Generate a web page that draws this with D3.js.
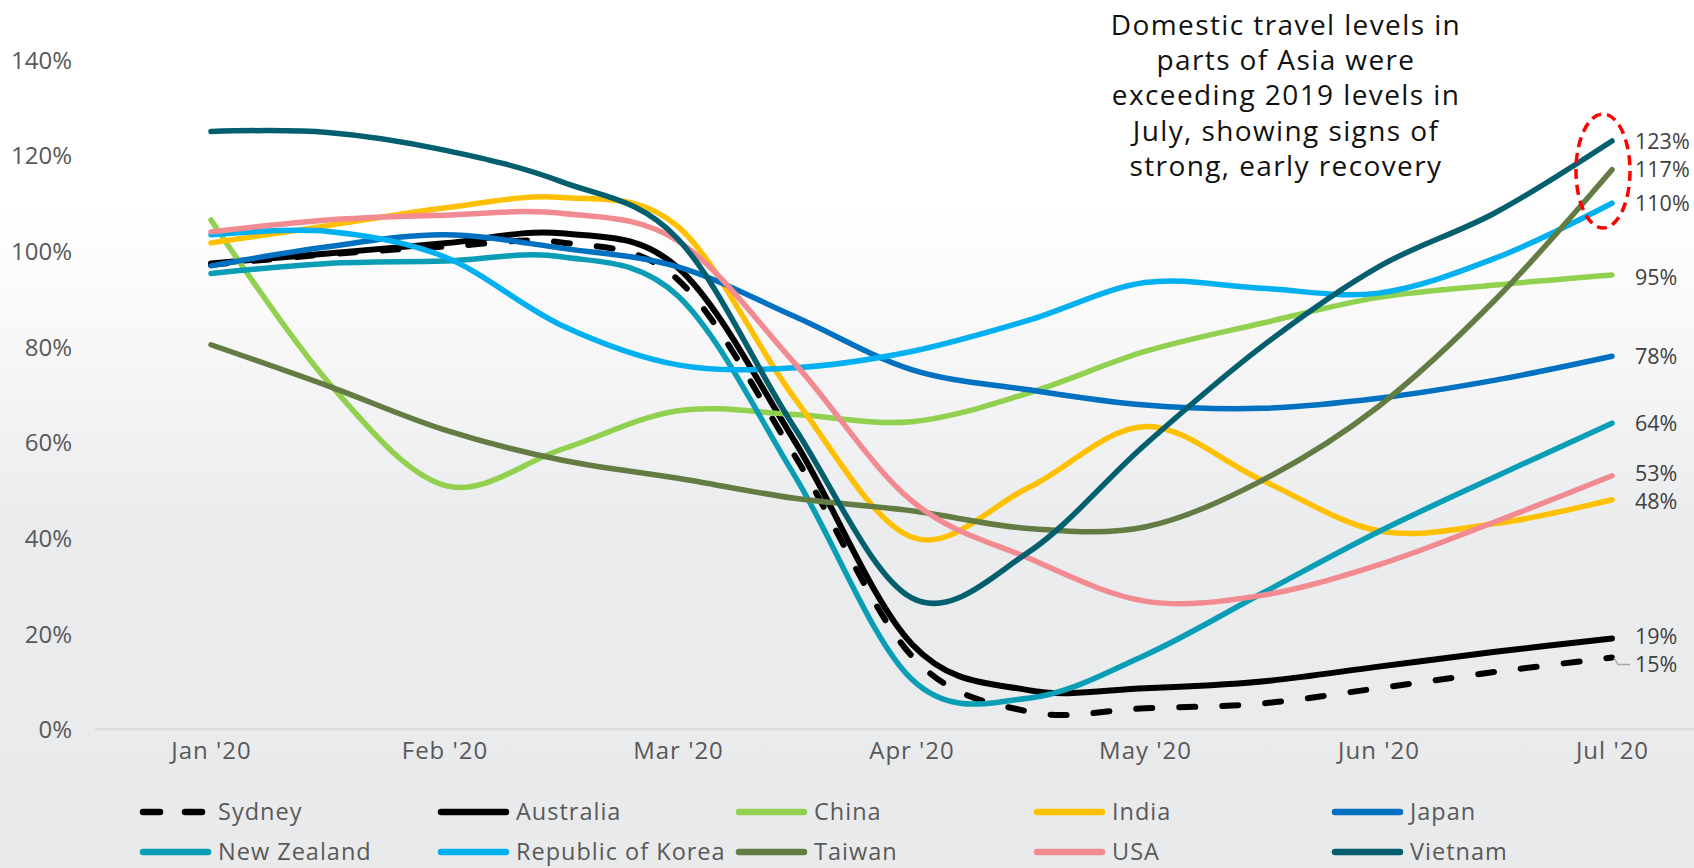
<!DOCTYPE html>
<html>
<head>
<meta charset="utf-8">
<script src="https://cdn.jsdelivr.net/npm/d3@7"></script>
<style>
  html, body { margin: 0; padding: 0; background: #fff; }
  svg { display: block; }
  text { font-family: "Open Sans", "Liberation Sans", sans-serif; }
</style>
</head>
<body>
<svg id="chart" width="1694" height="868"></svg>
<script>
// ---- Data ----
const months = ["Jan '20", "Feb '20", "Mar '20", "Apr '20", "May '20", "Jun '20", "Jul '20"];
const yTicks = [0, 20, 40, 60, 80, 100, 120, 140];
// observation positions, in months from Jan '20 (half-month readings)
const obsPos = [0, 0.5, 1, 1.5, 2, 2.5, 3, 3.5, 4, 4.5, 5, 5.5, 6];

const sydney     = [97.1, 99.3, 100.9, 101.8, 94.0, 57.2, 15.4, 3.7, 4.4, 5.4, 8.6, 12.0, 15];
const australia  = [97.4, 99.5, 101.6, 103.7, 96.5, 60.2, 17.9, 8.2, 8.6, 10.0, 13.1, 16.2, 19];
const china      = [106.5, 72.7, 51.0, 58.5, 66.6, 65.8, 64.3, 70.3, 79.0, 84.9, 90.3, 92.9, 95];
const india      = [101.7, 105.3, 109.0, 111.2, 105.1, 69.2, 40.2, 50.5, 63.3, 52.1, 41.5, 43.0, 48];
const japan      = [96.9, 100.9, 103.4, 100.6, 96.7, 86.3, 75.2, 71.0, 67.8, 67.1, 69.2, 73.0, 78];
const newZealand = [95.3, 97.4, 97.9, 98.8, 90.6, 53.0, 10.5, 6.5, 15.5, 28.4, 41.3, 52.8, 64];
const korea      = [103.4, 104.1, 98.8, 84.5, 76.2, 75.6, 79.0, 85.5, 93.4, 92.2, 91.2, 98.5, 110];
const taiwan     = [80.4, 71.8, 62.6, 56.3, 52.5, 48.3, 45.7, 42.0, 42.3, 52.0, 67.5, 89.8, 117];
const usa        = [104.0, 106.5, 107.5, 107.9, 102.1, 76.5, 47.8, 35.8, 26.8, 28.0, 34.4, 43.4, 53];
const vietnam    = [125.0, 124.8, 121.1, 114.5, 102.5, 63.0, 27.5, 37.0, 59.5, 80.0, 96.7, 108.0, 123];

const seriesNames = ["Sydney", "Australia", "China", "India", "Japan",
                     "New Zealand", "Republic of Korea", "Taiwan", "USA", "Vietnam"];
const seriesValues = [sydney, australia, china, india, japan, newZealand, korea, taiwan, usa, vietnam];

const annotationLines = ["Domestic travel levels in", "parts of Asia were",
  "exceeding 2019 levels in", "July, showing signs of", "strong, early recovery"];

// ---- Styles ----
const seriesColors = ["#000000", "#000000", "#92d050", "#ffc000", "#0070c0",
                      "#0a9db6", "#00b0f0", "#627c44", "#f28a92", "#035f6e"];
const seriesDashed = [true, false, false, false, false, false, false, false, false, false];
const labelOffsets = [7, -2, 3, 2, 0, 0, 0, 0, -2, 0];

// ---- Layout ----
const W = 1694, H = 868;
const svg = d3.select("#chart");

const defs = svg.append("defs");
const grad = defs.append("linearGradient").attr("id", "bg")
  .attr("gradientUnits", "userSpaceOnUse").attr("x1", 0).attr("y1", 0).attr("x2", 0).attr("y2", H);
[[0, "#ffffff"], [0.24, "#ffffff"], [0.40, "#f7f7f8"], [0.60, "#ebecee"], [1, "#e9eaec"]]
  .forEach(([o, c]) => grad.append("stop").attr("offset", o).attr("stop-color", c));
svg.append("rect").attr("width", W).attr("height", H).attr("fill", "url(#bg)");

const x = d3.scaleLinear().domain([0, 6]).range([211, 1612]);
const y = d3.scaleLinear().domain([0, 140]).range([729.3, 59.7]);

// baseline
svg.append("line").attr("x1", 95).attr("x2", W).attr("y1", y(0)).attr("y2", y(0))
  .attr("stroke", "#d9d9d9").attr("stroke-width", 2);

// y axis
const yAxis = svg.append("g").attr("transform", "translate(72,0)")
  .call(d3.axisLeft(y).tickValues(yTicks).tickFormat(d => d + "%").tickSize(0).tickPadding(0));
yAxis.select(".domain").remove();
yAxis.selectAll("text").attr("font-size", 24).attr("fill", "#595959")
  .attr("font-family", "'Open Sans', sans-serif").attr("dy", "0.35em");

// x axis
const xAxis = svg.append("g").attr("transform", "translate(0,745)")
  .call(d3.axisBottom(x).tickValues(d3.range(months.length)).tickFormat(i => months[i]).tickSize(0).tickPadding(0));
xAxis.select(".domain").remove();
xAxis.selectAll("text").attr("font-size", 24).attr("fill", "#595959")
  .attr("font-family", "'Open Sans', sans-serif").attr("letter-spacing", 1)
  .attr("dy", "0.6em");

// lines
const line = d3.line().x(d => x(d[0])).y(d => y(d[1])).curve(d3.curveCatmullRom.alpha(0));
seriesValues.forEach((vals, i) => {
  const pts = vals.map((v, j) => [obsPos[j], v]);
  svg.append("path").datum(pts)
    .attr("d", line)
    .attr("fill", "none")
    .attr("stroke", seriesColors[i])
    .attr("stroke-width", i < 2 ? 6 : 5.5)
    .attr("stroke-linecap", "round")
    .attr("stroke-linejoin", "round")
    .attr("stroke-dasharray", seriesDashed[i] ? "16 27" : null);
});

// end labels
seriesValues.forEach((vals, i) => {
  const v = vals[vals.length - 1];
  const ly = y(v) + labelOffsets[i];
  svg.append("text").attr("x", 1635).attr("y", ly).attr("dy", "0.35em")
    .attr("font-size", 21.5).attr("fill", "#404040")
    .text(d3.format(".0f")(v) + "%");
  if (seriesDashed[i]) {
    svg.append("polyline")
      .attr("points", `${x(6) + 2},${y(v)} ${x(6) + 6},${ly} ${x(6) + 18},${ly}`)
      .attr("fill", "none").attr("stroke", "#a6a6a6").attr("stroke-width", 1.5);
  }
});

// red dashed ellipse
svg.append("ellipse").attr("cx", 1603).attr("cy", 171).attr("rx", 27).attr("ry", 57)
  .attr("fill", "none").attr("stroke", "#ff0000").attr("stroke-width", 3.5)
  .attr("stroke-dasharray", "10 6");

// annotation
const ann = svg.append("text").attr("text-anchor", "middle").attr("font-size", 28)
  .attr("fill", "#111111").attr("letter-spacing", 1.4);
annotationLines.forEach((t, i) => {
  ann.append("tspan").attr("x", 1286).attr("y", 25 + i * 35.3).attr("dy", "0.35em").text(t);
});

// legend
const legend = svg.append("g");
seriesNames.forEach((name, i) => {
  const col = i % 5, row = Math.floor(i / 5);
  const lx = 140 + col * 298;
  const ly = row === 0 ? 812 : 852;
  const g = legend.append("g");
  if (seriesDashed[i]) {
    [[143, 160], [185, 202]].forEach(([a, b]) => {
      g.append("line").attr("x1", a).attr("x2", b).attr("y1", ly).attr("y2", ly)
        .attr("stroke", seriesColors[i]).attr("stroke-width", 6.5).attr("stroke-linecap", "round");
    });
  } else {
    g.append("line").attr("x1", lx + 3).attr("x2", lx + 68).attr("y1", ly).attr("y2", ly)
      .attr("stroke", seriesColors[i]).attr("stroke-width", 6.5).attr("stroke-linecap", "round");
  }
  g.append("text").attr("x", lx + 78).attr("y", ly).attr("dy", "0.35em")
    .attr("font-size", 23.5).attr("fill", "#595959").attr("letter-spacing", 1).text(name);
});
</script>
</body>
</html>
